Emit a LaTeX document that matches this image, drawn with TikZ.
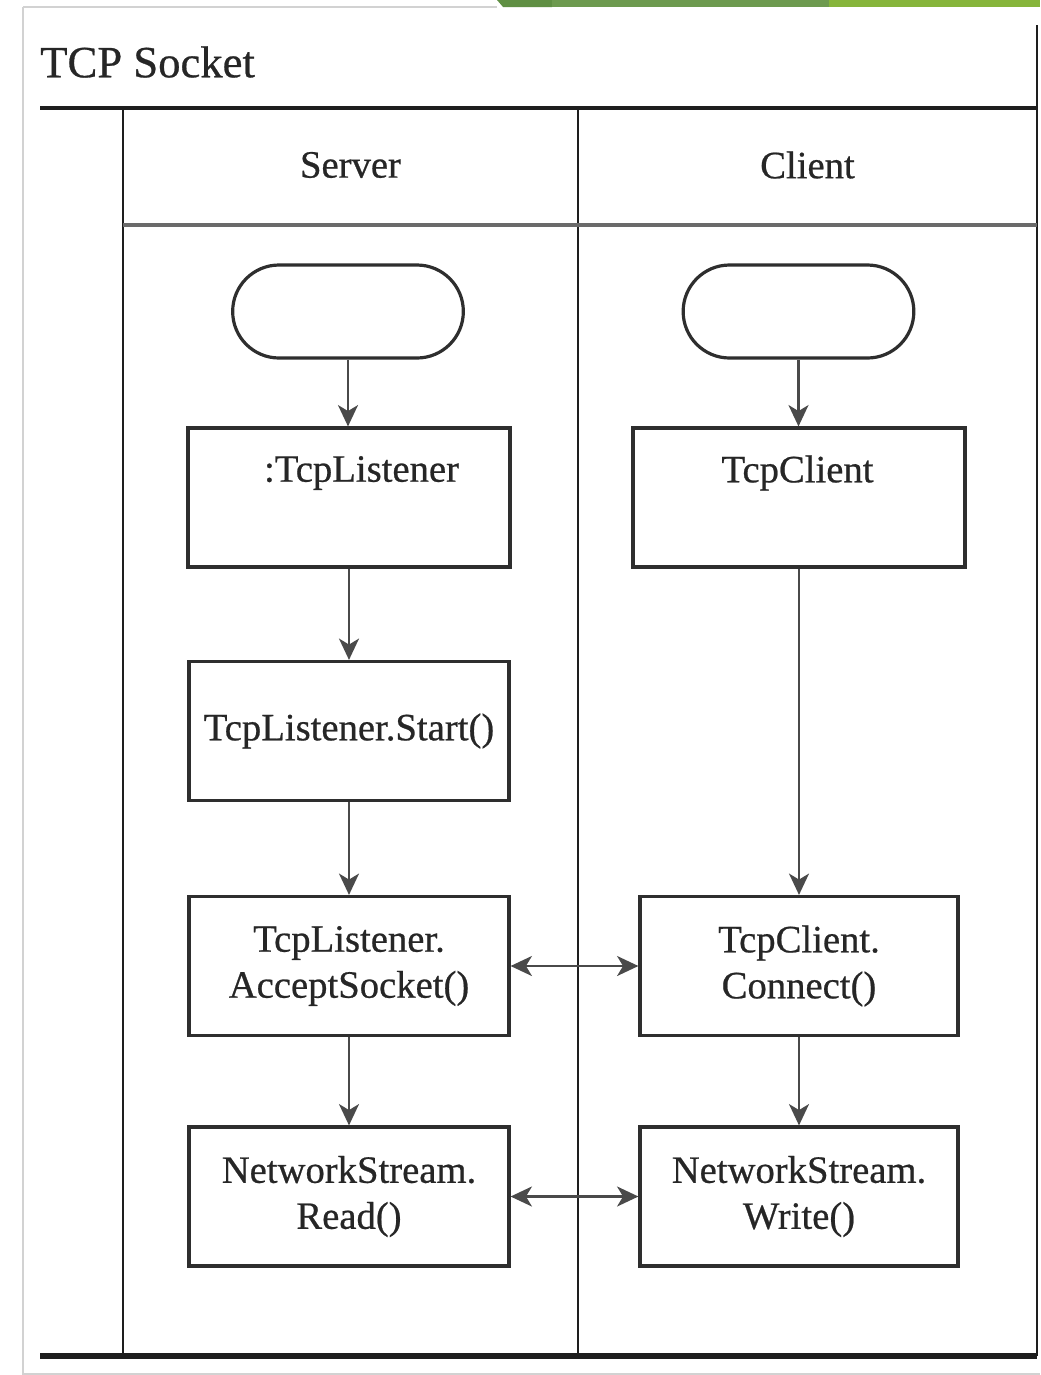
\documentclass[tikz,border=0pt]{standalone}
\usepackage{fontspec}
\setmainfont{Liberation Serif}
\newfontfamily\diagfont{Liberation Serif}[BoldFont={Liberation Serif}, BoldFeatures={FakeBold=0.6}]
\usetikzlibrary{arrows.meta}
\definecolor{boxline}{HTML}{2E2E2E}
\definecolor{flowline}{HTML}{4A4A4A}
\definecolor{frameline}{HTML}{1E1E1E}
\definecolor{headline}{HTML}{6A6A6A}
\definecolor{pagegray}{HTML}{D2D2D2}
\definecolor{greenA}{HTML}{5F8F43}
\definecolor{greenB}{HTML}{6D9A4F}
\definecolor{greenC}{HTML}{86B53B}
\begin{document}
\begin{tikzpicture}[x=0.75pt,y=-0.75pt,
  txt/.style={font=\diagfont\bfseries\fontsize{29}{34.5}\selectfont, text=black!85, inner sep=0pt, align=center},
  procbox/.style={draw=boxline, line width=2.4pt, fill=white, minimum height=104.25pt, inner sep=0pt, align=center, font=\diagfont\bfseries\fontsize{29}{34.5}\selectfont, text=black!85},
  terminal/.style={draw=boxline, line width=2.4pt, fill=white, minimum width=173pt, minimum height=69.75pt, rounded corners=34.8pt, inner sep=0pt},
  tip/.tip={Stealth[length=16pt,width=15pt,inset=4.5pt]},
  flow/.style={draw=flowline, line width=1.7pt, -tip},
  dflow/.style={draw=flowline, line width=1.7pt, tip-tip},
  lane/.style={draw=frameline, line width=2pt},
]
\useasboundingbox (0,0) rectangle (1040,1375);
\fill[white] (0,0) rectangle (1040,1375);

% page edge and green ribbon
\draw[pagegray, line width=1.5pt] (23,7) -- (497,7);
\draw[pagegray, line width=1.5pt] (23,7) -- (23,1375);
\draw[pagegray, line width=1.5pt] (23,1374) -- (1040,1374);
\fill[greenA] (497,0) -- (552,0) -- (552,7) -- (503,7) -- cycle;
\fill[greenB] (552,0) rectangle (829,7);
\fill[greenC] (829,0) rectangle (1040,7);

% pool title
\node[font=\diagfont\bfseries\fontsize{33.5}{40}\selectfont, inner sep=0pt, anchor=west, text=black!85] (pool) at (40,62) {TCP Socket};

% pool and lane frame
\draw[frameline, line width=3pt] (40,108) -- (1037,108);
\draw[lane] (1037,25) -- (1037,1356);
\draw[lane] (123,108) -- (123,1356);
\draw[lane] (578,108) -- (578,1356);
\draw[headline, line width=3.5pt] (123,225) -- (1037,225);
\draw[frameline, line width=3.8pt] (40,1356) -- (1037,1356);

% lane headers
\node[txt] (hs) at (350.5,165) {Server};
\node[txt] (hc) at (807.5,165) {Client};

% server lane
\node[terminal] (ss) at (348,311.5) {};
\node[procbox, minimum width=241.5pt] (tl) at (349,497.5) {};
\node[txt] (tlt) at (361.5,473) {:TcpListener};
\node[procbox, minimum width=240pt] (st) at (349,731) {TcpListener.Start()};
\node[procbox, minimum width=240pt] (acc) at (349,966) {TcpListener.\\AcceptSocket()};
\node[procbox, minimum width=240pt] (rd) at (349,1196.5) {NetworkStream.\\Read()};

% client lane
\node[terminal] (cs) at (798.5,311.5) {};
\node[procbox, minimum width=249pt] (tc) at (799,497.5) {};
\node[txt] (tct) at (797.5,473) {TcpClient};
\node[procbox, minimum width=238.5pt] (con) at (799,966) {TcpClient.\\Connect()};
\node[procbox, minimum width=238.5pt] (wr) at (799,1196.5) {NetworkStream.\\Write()};

% control flow
\draw[flow] (ss.south) -- (ss.south |- tl.north);
\draw[flow] (tl.south) -- (tl.south |- st.north);
\draw[flow] (st.south) -- (st.south |- acc.north);
\draw[flow] (acc.south) -- (acc.south |- rd.north);
\draw[flow] (cs.south) -- (cs.south |- tc.north);
\draw[flow] (tc.south) -- (tc.south |- con.north);
\draw[flow] (con.south) -- (con.south |- wr.north);

% messages between the lanes
\draw[dflow] (acc.east) -- (con.west);
\draw[dflow] (rd.east) -- (wr.west);
\end{tikzpicture}
\end{document}
